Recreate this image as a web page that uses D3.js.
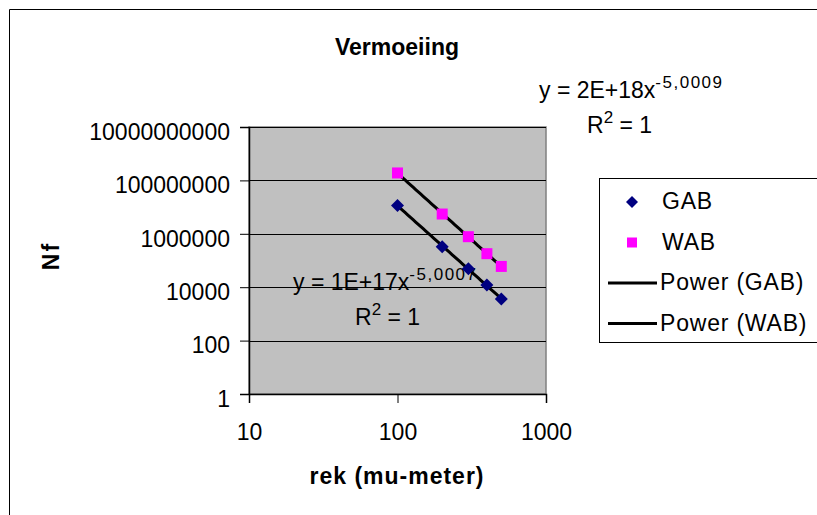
<!DOCTYPE html>
<html>
<head>
<meta charset="utf-8">
<script src="https://cdn.jsdelivr.net/npm/d3@7"></script>
<style>
  body { margin: 0; background: #fff; overflow: hidden; }
  svg { display: block; font-family: "Liberation Sans", Arial, sans-serif; }
</style>
</head>
<body>
<div class="chart"></div>
<script>
// rek (mu-meter) en aantal cycli Nf
const strain = [100, 200, 300, 400, 500];
const gabValues = [1.15e7, 3.3e5, 4.9e4, 1.2e4, 3.6e3];
const wabValues = [1.9e8, 5.5e6, 7.8e5, 1.8e5, 6.0e4];
const legendLabels = ["GAB", "WAB", "Power (GAB)", "Power (WAB)"];
const xTicks = [10, 100, 1000];
const yTicks = [1, 100, 10000, 1000000, 100000000, 10000000000];
const equations = [
  {main: "y = 1E+17x", exp: "-5,0007", r2: "1"},
  {main: "y = 2E+18x", exp: "-5,0009", r2: "1"}
];

var width = 817, height = 515;
var svg = d3.select(".chart").append("svg")
    .attr("width", width).attr("height", height);

// kader van de grafiek (rechts en onder vallen buiten beeld)
svg.append("path")
    .attr("d", "M9.5," + height + "V9.5H" + width)
    .attr("fill", "none").attr("stroke", "#000").attr("stroke-width", 1);

var plot = {left: 249, right: 546, top: 127, bottom: 394};
var x = d3.scaleLog().domain([10, 1000]).range([plot.left, plot.right]);
var y = d3.scaleLog().domain([1, 1e10]).range([plot.bottom, plot.top]);

// plot area
svg.append("rect")
    .attr("x", plot.left).attr("y", plot.top)
    .attr("width", plot.right - plot.left).attr("height", plot.bottom - plot.top)
    .attr("fill", "#c0c0c0").attr("stroke", "#808080").attr("stroke-width", 1.5);

// gridlines
svg.append("g").selectAll("line")
    .data(yTicks.slice(1))
    .join("line")
    .attr("x1", plot.left).attr("x2", plot.right)
    .attr("y1", d => Math.round(y(d)) + 0.5).attr("y2", d => Math.round(y(d)) + 0.5)
    .attr("stroke", "#000").attr("stroke-width", 1);

// assen
var yAxis = svg.append("g")
    .attr("transform", "translate(" + plot.left + ",0)")
    .call(d3.axisLeft(y).tickValues(yTicks).tickFormat(d3.format("d")).tickSize(9).tickPadding(10));
var xAxis = svg.append("g")
    .attr("transform", "translate(0," + plot.bottom + ")")
    .call(d3.axisBottom(x).tickValues(xTicks).tickFormat(d3.format("d")).tickSize(9).tickPadding(21));
[yAxis, xAxis].forEach(function(ax){
    ax.select(".domain").attr("stroke", "#000").attr("stroke-width", 1.5);
    ax.selectAll(".tick line").attr("stroke", "#000");
    ax.selectAll("text").attr("fill", "#000")
        .style("font-size", "23px").style("font-family", "Liberation Sans, Arial, sans-serif");
});
yAxis.selectAll("text").attr("dy", "0.53em");

// vergelijkingen (onder de lijnen en markers)
function equation(gx, gy, rx, eq){
    var t = svg.append("text")
        .attr("x", gx).attr("y", gy)
        .style("font-size", "23px").attr("fill", "#000");
    t.append("tspan").text(eq.main);
    t.append("tspan").attr("dy", -10)
        .style("font-size", "17px").style("letter-spacing", "1.5px").text(eq.exp);
    var r = svg.append("text")
        .attr("x", rx).attr("y", gy + 35)
        .style("font-size", "23px").attr("fill", "#000");
    r.append("tspan").text("R");
    r.append("tspan").attr("dy", -10).style("font-size", "17px").text("2");
    r.append("tspan").attr("dy", 10).text(" = " + eq.r2);
}
equation(293, 290, 355, equations[0]);
equation(539, 98, 587, equations[1]);

// power trendlijnen (kleinste kwadraten op log-log)
function powerFit(xs, ys){
    var lx = xs.map(Math.log10), ly = ys.map(Math.log10);
    var mx = d3.mean(lx), my = d3.mean(ly);
    var b = d3.sum(lx, (v, i) => (v - mx) * (ly[i] - my)) / d3.sum(lx, v => (v - mx) * (v - mx));
    var a = my - b * mx;
    return v => Math.pow(10, a + b * Math.log10(v));
}
var line = d3.line().x(d => x(d[0])).y(d => y(d[1]));
[gabValues, wabValues].forEach(function(vals){
    var f = powerFit(strain, vals);
    var lo = Math.log10(strain[0]), hi = Math.log10(strain[strain.length - 1]);
    var pts = d3.range(0, 41).map(i => {
        var sx = Math.pow(10, lo + i / 40 * (hi - lo));
        return [sx, f(sx)];
    });
    svg.append("path").datum(pts)
        .attr("d", line)
        .attr("fill", "none").attr("stroke", "#000").attr("stroke-width", 3);
});

// markers
svg.append("g").selectAll("rect")
    .data(strain.map((s, i) => [s, wabValues[i]]))
    .join("rect")
    .attr("x", d => x(d[0]) - 5.5).attr("y", d => y(d[1]) - 5.5)
    .attr("width", 11).attr("height", 11)
    .attr("fill", "#ff00ff");
svg.append("g").selectAll("path")
    .data(strain.map((s, i) => [s, gabValues[i]]))
    .join("path")
    .attr("d", "M0,-6.5L6.5,0L0,6.5L-6.5,0Z")
    .attr("transform", d => "translate(" + x(d[0]) + "," + y(d[1]) + ")")
    .attr("fill", "#000080");

// titel
svg.append("text")
    .attr("x", 397).attr("y", 55)
    .attr("text-anchor", "middle")
    .style("font-size", "23px").style("font-weight", "bold")
    .text("Vermoeiing");

// astitels
svg.append("text")
    .attr("x", 397).attr("y", 484)
    .attr("text-anchor", "middle")
    .style("font-size", "23px").style("font-weight", "bold").style("letter-spacing", "1px")
    .text("rek (mu-meter)");
svg.append("text")
    .attr("transform", "translate(59,256) rotate(-90)")
    .attr("text-anchor", "middle")
    .style("font-size", "23px").style("font-weight", "bold").style("letter-spacing", "2px")
    .text("Nf");

// legenda
var legend = svg.append("g");
legend.append("rect")
    .attr("x", 599.5).attr("y", 178.5)
    .attr("width", 260).attr("height", 164)
    .attr("fill", "#fff").attr("stroke", "#000").attr("stroke-width", 1);
legendLabels.forEach(function(lbl, i){
    var ly = 202 + i * 40.5;
    if (i == 0) {
        legend.append("path").attr("d", "M0,-6L6,0L0,6L-6,0Z")
            .attr("transform", "translate(632," + ly + ")").attr("fill", "#000080");
    } else if (i == 1) {
        legend.append("rect").attr("x", 627).attr("y", ly - 5)
            .attr("width", 10).attr("height", 10).attr("fill", "#ff00ff");
    } else {
        legend.append("line").attr("x1", 608).attr("x2", 657)
            .attr("y1", ly).attr("y2", ly)
            .attr("stroke", "#000").attr("stroke-width", 3);
    }
    legend.append("text")
        .attr("x", i < 2 ? 662 : 660).attr("y", ly + 7)
        .style("font-size", "23px").style("letter-spacing", "0.8px")
        .text(lbl);
});
</script>
</body>
</html>
